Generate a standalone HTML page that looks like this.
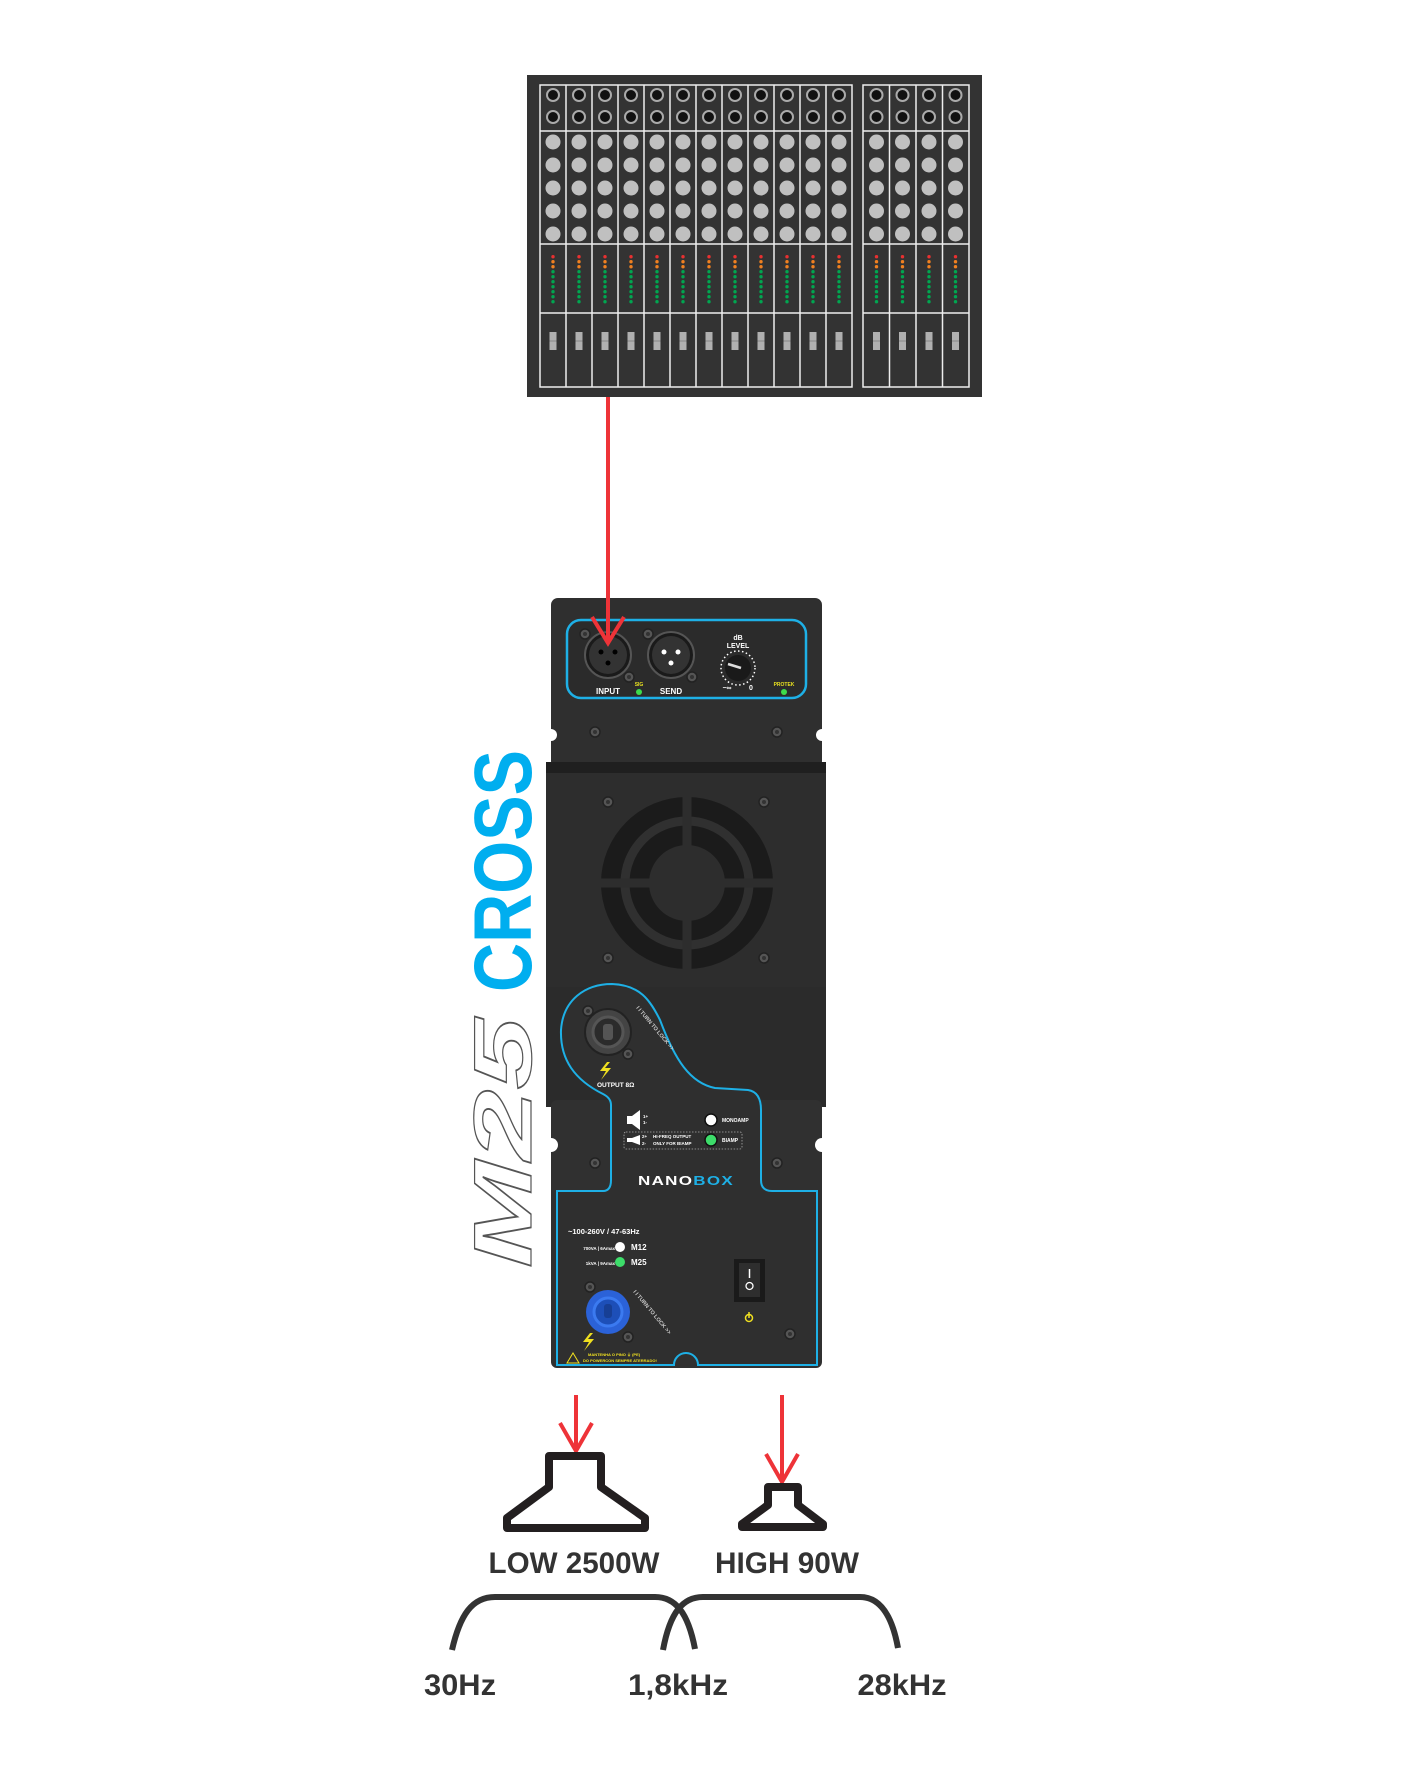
<!DOCTYPE html>
<html><head><meta charset="utf-8"><style>
html,body{margin:0;padding:0;background:#fff;}
svg{display:block;}
text{font-family:"Liberation Sans",sans-serif;}
</style></head><body>
<svg width="1418" height="1773" viewBox="0 0 1418 1773" xmlns="http://www.w3.org/2000/svg">
<defs>
<g id="ch">
  <circle cx="13" cy="95" r="6" fill="#111" stroke="#aaa" stroke-width="2"/>
  <circle cx="13" cy="117" r="6" fill="#111" stroke="#aaa" stroke-width="2"/>
  <circle cx="13" cy="142" r="7.5" fill="#c0c0c0"/>
  <circle cx="13" cy="165" r="7.5" fill="#c0c0c0"/>
  <circle cx="13" cy="188" r="7.5" fill="#c0c0c0"/>
  <circle cx="13" cy="211" r="7.5" fill="#c0c0c0"/>
  <circle cx="13" cy="234" r="7.5" fill="#c0c0c0"/>
  <circle cx="13" cy="256.7" r="1.7" fill="#e83030"/>
  <circle cx="13" cy="261.7" r="1.7" fill="#f08020"/>
  <circle cx="13" cy="266.7" r="1.7" fill="#f08020"/>
  <circle cx="13" cy="271.7" r="1.7" fill="#00a650"/>
  <circle cx="13" cy="276.7" r="1.7" fill="#00a650"/>
  <circle cx="13" cy="281.7" r="1.7" fill="#00a650"/>
  <circle cx="13" cy="286.7" r="1.7" fill="#00a650"/>
  <circle cx="13" cy="291.7" r="1.7" fill="#00a650"/>
  <circle cx="13" cy="296.7" r="1.7" fill="#00a650"/>
  <circle cx="13" cy="301.7" r="1.7" fill="#00a650"/>
  <rect x="9.5" y="332" width="7" height="18" fill="#b0b0b0"/>
  <line x1="9.5" y1="341" x2="16.5" y2="341" stroke="#888" stroke-width="1"/>
</g>
<g id="screw"><circle r="5" fill="#555" stroke="#222" stroke-width="1.5"/><circle r="2" fill="#333"/></g>
</defs>

<!-- MIXER -->
<rect x="527" y="75" width="455" height="322" fill="#333"/>
<g fill="none" stroke="#eee" stroke-width="1.5">
  <rect x="540" y="85" width="312" height="302"/>
  <rect x="863" y="85" width="106" height="302"/>
  <path d="M540 131H852M540 244H852M540 313H852M863 131H969M863 244H969M863 313H969"/>
  <path d="M566 85V387M592 85V387M618 85V387M644 85V387M670 85V387M696 85V387M722 85V387M748 85V387M774 85V387M800 85V387M826 85V387"/>
  <path d="M889.5 85V387M916 85V387M942.5 85V387"/>
</g>
<use href="#ch" x="540"/><use href="#ch" x="566"/><use href="#ch" x="592"/><use href="#ch" x="618"/>
<use href="#ch" x="644"/><use href="#ch" x="670"/><use href="#ch" x="696"/><use href="#ch" x="722"/>
<use href="#ch" x="748"/><use href="#ch" x="774"/><use href="#ch" x="800"/><use href="#ch" x="826"/>
<use href="#ch" x="863.5"/><use href="#ch" x="889.5"/><use href="#ch" x="916"/><use href="#ch" x="942.5"/>

<!-- AMP body -->
<rect x="551" y="598" width="271" height="170" rx="7" fill="#2f2f2f"/>
<circle cx="551" cy="735" r="6" fill="#fff"/><circle cx="822" cy="735" r="6" fill="#fff"/>
<rect x="546" y="762" width="280" height="14" fill="#1f1f1f"/>
<rect x="546" y="773" width="280" height="214" fill="#2d2d2d"/>
<rect x="546" y="987" width="280" height="120" fill="#2b2b2b"/>
<rect x="551" y="1100" width="271" height="268" rx="6" fill="#303030"/>
<circle cx="551" cy="1145" r="7" fill="#fff"/><circle cx="822" cy="1145" r="7" fill="#fff"/>

<!-- input panel -->
<rect x="567" y="620" width="239" height="78" rx="14" fill="#2b2b2b" stroke="#1eb0e6" stroke-width="2.5"/>
<circle cx="608" cy="655" r="23" fill="#1a1a1a" stroke="#555" stroke-width="2"/>
<circle cx="608" cy="655" r="19" fill="#333"/>
<circle cx="601" cy="652" r="2.5" fill="#000"/><circle cx="615" cy="652" r="2.5" fill="#000"/><circle cx="608" cy="663" r="2.5" fill="#000"/>
<circle cx="671" cy="655" r="23" fill="#1a1a1a" stroke="#555" stroke-width="2"/>
<circle cx="671" cy="655" r="19" fill="#333"/>
<circle cx="664" cy="652" r="2.5" fill="#fff"/><circle cx="678" cy="652" r="2.5" fill="#fff"/><circle cx="671" cy="663" r="2.5" fill="#fff"/>
<use href="#screw" x="585" y="634"/><use href="#screw" x="629" y="677"/><use href="#screw" x="648" y="634"/><use href="#screw" x="692" y="677"/>
<text x="608" y="694" font-size="8" font-weight="bold" fill="#fff" text-anchor="middle">INPUT</text>
<text x="671" y="694" font-size="8" font-weight="bold" fill="#fff" text-anchor="middle">SEND</text>
<text x="639" y="686" font-size="5" font-weight="bold" fill="#e8e020" text-anchor="middle">SIG</text>
<circle cx="639" cy="692" r="3" fill="#3ddc4a"/>
<text x="738" y="640" font-size="7" font-weight="bold" fill="#fff" text-anchor="middle">dB</text>
<text x="738" y="648" font-size="7" font-weight="bold" fill="#fff" text-anchor="middle">LEVEL</text>
<circle cx="738" cy="668" r="17" fill="none" stroke="#fff" stroke-width="1.5" stroke-dasharray="1.5 2.5"/>
<circle cx="738" cy="668" r="13" fill="#1a1a1a"/>
<line x1="728" y1="664" x2="741" y2="668" stroke="#ddd" stroke-width="2.5"/>
<text x="727" y="690" font-size="7" font-weight="bold" fill="#fff" text-anchor="middle">−∞</text>
<text x="751" y="690" font-size="7" font-weight="bold" fill="#fff" text-anchor="middle">0</text>
<text x="784" y="686" font-size="5" font-weight="bold" fill="#e8e020" text-anchor="middle">PROTEK</text>
<circle cx="784" cy="692" r="3" fill="#3ddc4a"/>
<use href="#screw" x="595" y="732"/><use href="#screw" x="777" y="732"/>

<!-- fan -->
<circle cx="687" cy="883" r="86" fill="#1b1b1b"/>
<circle cx="687" cy="883" r="62" fill="none" stroke="#303030" stroke-width="9"/>
<circle cx="687" cy="883" r="38" fill="#2d2d2d"/>
<path d="M687 797V969M601 883H773" stroke="#2d2d2d" stroke-width="9"/>
<use href="#screw" x="608" y="802"/><use href="#screw" x="764" y="802"/><use href="#screw" x="608" y="958"/><use href="#screw" x="764" y="958"/>

<!-- lower cyan outline -->
<path d="M557 1191H603Q611 1191 611 1180V1105Q611 1098 603 1094C575 1080 560 1060 561 1030C563 1000 585 984 612 984C640 985 650 1000 660 1020C675 1060 690 1083 715 1088L748 1090Q761 1092 761 1110V1180Q761 1191 772 1191H817V1365H698A12 12 0 0 0 674 1365H557Z" fill="#2f2f2f" stroke="#1eb0e6" stroke-width="2"/>
<!-- speakon output -->
<circle cx="608" cy="1032" r="23" fill="#444" stroke="#222" stroke-width="2"/>
<circle cx="608" cy="1032" r="15" fill="#2b2b2b" stroke="#555" stroke-width="3"/>
<rect x="603" y="1024" width="10" height="16" rx="3" fill="#555"/>
<use href="#screw" x="588" y="1011"/><use href="#screw" x="628" y="1054"/>
<path d="M607 1062L600 1071H606L601 1080L611 1068H605L610 1062Z" fill="#f0e020"/>
<text x="597" y="1087" font-size="6.5" font-weight="bold" fill="#fff">OUTPUT 8Ω</text>
<text x="636" y="1008" font-size="5.5" font-weight="bold" fill="#ccc" transform="rotate(50 636 1008)">I I TURN TO LOCK &gt;&gt;</text>
<!-- routing -->
<path d="M627 1116H632L640 1110V1130L632 1124H627Z" fill="#fff"/>
<text x="643" y="1118" font-size="4.5" font-weight="bold" fill="#fff">1+</text>
<text x="643" y="1124" font-size="4.5" font-weight="bold" fill="#fff">1-</text>
<circle cx="711" cy="1120" r="6" fill="#fff" stroke="#111" stroke-width="1.5"/>
<text x="722" y="1122" font-size="5" font-weight="bold" fill="#fff">MONOAMP</text>
<rect x="624" y="1132" width="118" height="17" rx="2" fill="none" stroke="#aaa" stroke-width="0.8" stroke-dasharray="1.5 1.5"/>
<path d="M627 1138H632L640 1135V1145L632 1142H627Z" fill="#fff"/>
<text x="642" y="1138" font-size="4.5" font-weight="bold" fill="#fff">2+</text>
<text x="642" y="1145" font-size="4.5" font-weight="bold" fill="#fff">2-</text>
<text x="653" y="1138" font-size="4.5" font-weight="bold" fill="#fff">HI-FREQ OUTPUT</text>
<text x="653" y="1145" font-size="4.5" font-weight="bold" fill="#fff">ONLY FOR BIAMP</text>
<circle cx="711" cy="1140" r="6" fill="#3ddc6a" stroke="#111" stroke-width="1.5"/>
<text x="722" y="1142" font-size="5" font-weight="bold" fill="#fff">BIAMP</text>
<use href="#screw" x="595" y="1163"/><use href="#screw" x="777" y="1163"/>
<text x="686" y="1185" font-size="13" font-weight="bold" text-anchor="middle" letter-spacing="1" textLength="96" lengthAdjust="spacingAndGlyphs"><tspan fill="#fff">NANO</tspan><tspan fill="#1eb0e6">BOX</tspan></text>
<!-- power section -->
<text x="568" y="1234" font-size="7.5" font-weight="bold" fill="#fff">~100-260V / 47-63Hz</text>
<text x="615" y="1250" font-size="4.5" font-weight="bold" fill="#fff" text-anchor="end">700VA | 6Amax</text>
<circle cx="620" cy="1247" r="5" fill="#fff"/>
<text x="631" y="1250" font-size="8" font-weight="bold" fill="#fff">M12</text>
<text x="615" y="1265" font-size="4.5" font-weight="bold" fill="#fff" text-anchor="end">1kVA | 9Amax</text>
<circle cx="620" cy="1262" r="5" fill="#3ddc6a"/>
<text x="631" y="1265" font-size="8" font-weight="bold" fill="#fff">M25</text>
<rect x="734" y="1259" width="31" height="43" fill="#1a1a1a"/>
<rect x="739" y="1263" width="21" height="34" fill="#2e2e2e"/>
<line x1="749.5" y1="1269" x2="749.5" y2="1278" stroke="#fff" stroke-width="1.5"/>
<circle cx="749.5" cy="1286" r="3.5" fill="none" stroke="#fff" stroke-width="1.3"/>
<circle cx="749" cy="1318" r="3.5" fill="none" stroke="#f0e020" stroke-width="1.5"/>
<line x1="749" y1="1312" x2="749" y2="1318" stroke="#f0e020" stroke-width="1.5"/>
<circle cx="608" cy="1312" r="22" fill="#2b62d8"/>
<circle cx="608" cy="1312" r="14" fill="#1d4fb8" stroke="#3b7af0" stroke-width="3"/>
<rect x="604" y="1304" width="8" height="14" rx="3" fill="#173f95"/>
<use href="#screw" x="590" y="1287"/><use href="#screw" x="628" y="1337"/><use href="#screw" x="790" y="1334"/>
<text x="633" y="1292" font-size="5.5" font-weight="bold" fill="#ccc" transform="rotate(50 633 1292)">I I TURN TO LOCK &gt;&gt;</text>
<path d="M590 1333L583 1342H589L584 1351L594 1339H588L593 1333Z" fill="#f0e020"/>
<path d="M567 1363L573 1353L579 1363Z" fill="none" stroke="#f0e020" stroke-width="1"/>
<text x="588" y="1356" font-size="4" font-weight="bold" fill="#f0e020">MANTENHA O PINO ⏚ (PE)</text>
<text x="583" y="1362" font-size="4" font-weight="bold" fill="#f0e020">DO POWERCON SEMPRE ATERRADO!</text>

<!-- rotated title -->
<text transform="translate(531 992) rotate(-90)" font-size="82" font-weight="bold" fill="#00aeef" textLength="242" lengthAdjust="spacingAndGlyphs">CROSS</text>
<text transform="translate(531 1268) rotate(-90)" font-size="82" font-weight="bold" fill="#fff" stroke="#555" stroke-width="1.2" font-style="italic" textLength="250" lengthAdjust="spacingAndGlyphs">M25</text>

<!-- red arrows -->
<g stroke="#ee3338" stroke-width="4" fill="none">
  <path d="M608 397V641"/><path d="M592 617L608 643L624 617"/>
  <path d="M576 1395V1449"/><path d="M560 1423L576 1451L592 1423"/>
  <path d="M782 1395V1479"/><path d="M766 1454L782 1482L798 1454"/>
</g>

<!-- speakers -->
<g fill="none" stroke="#231f20" stroke-width="8" stroke-linejoin="round">
  <path d="M549 1456H601V1487L645 1518V1528H507V1518L549 1487Z"/>
  <path d="M768 1487H798V1505L823 1524V1527H742V1524L768 1505Z"/>
</g>
<text x="574" y="1573" font-size="30" font-weight="bold" fill="#333" text-anchor="middle" textLength="171" lengthAdjust="spacingAndGlyphs">LOW 2500W</text>
<text x="787" y="1573" font-size="30" font-weight="bold" fill="#333" text-anchor="middle" textLength="144" lengthAdjust="spacingAndGlyphs">HIGH 90W</text>

<!-- curves -->
<g fill="none" stroke="#333" stroke-width="6">
  <path d="M452 1650C460 1615 472 1597 495 1597H655C675 1597 688 1612 695 1649"/>
  <path d="M663 1650C670 1612 683 1597 703 1597H860C880 1597 892 1615 898 1648"/>
</g>
<text x="460" y="1695" font-size="30" font-weight="bold" fill="#333" text-anchor="middle" textLength="72" lengthAdjust="spacingAndGlyphs">30Hz</text>
<text x="678" y="1695" font-size="30" font-weight="bold" fill="#333" text-anchor="middle" textLength="100" lengthAdjust="spacingAndGlyphs">1,8kHz</text>
<text x="902" y="1695" font-size="30" font-weight="bold" fill="#333" text-anchor="middle" textLength="89" lengthAdjust="spacingAndGlyphs">28kHz</text>
</svg>
</body></html>
